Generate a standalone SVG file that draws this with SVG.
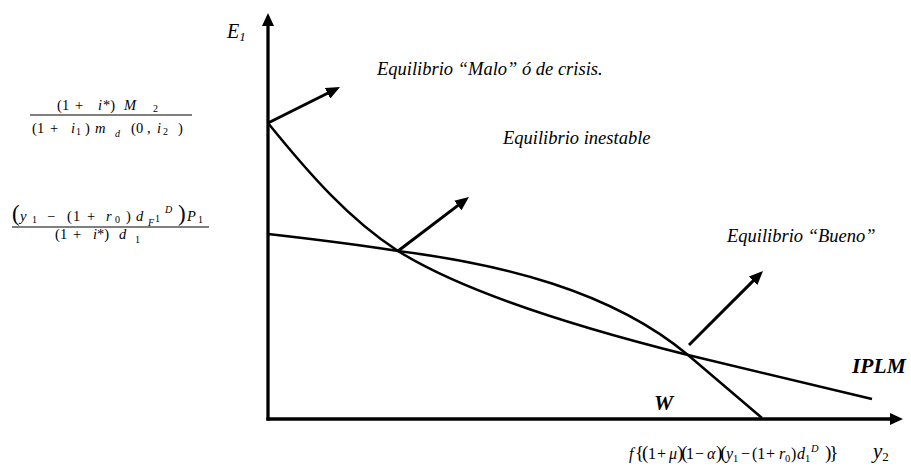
<svg xmlns="http://www.w3.org/2000/svg" width="911" height="471" viewBox="0 0 911 471" font-family="'Liberation Serif','Times New Roman',serif">
<defs>
<style>
.ax{stroke:#000;stroke-width:3.3;fill:none}
.arr{stroke:#000;stroke-width:3;fill:none}
.cv{stroke:#000;stroke-width:2.5;fill:none}
.bar{stroke:#000;stroke-width:1.2}
text{font-family:"Liberation Serif","Times New Roman",serif;fill:#000}
.lbl{font-size:18.5px;font-style:italic}
.bi{font-size:21.5px;font-style:italic;font-weight:bold}
.f{font-size:14.5px}
.it{font-style:italic}
.sm{font-size:10px}
.bf{font-size:16px}
.bp{font-size:19px;letter-spacing:-2px}
.bs{font-size:10.5px}
</style>
<marker id="ah" markerUnits="userSpaceOnUse" markerWidth="14" markerHeight="12" refX="4" refY="6" orient="auto">
<path d="M0,0 L14,6 L0,12 z" fill="#000"/>
</marker>
<marker id="axh" markerUnits="userSpaceOnUse" markerWidth="13" markerHeight="12" refX="3" refY="6" orient="auto">
<path d="M0,0 L13,6 L0,12 z" fill="#000"/>
</marker>
</defs>
<rect width="911" height="471" fill="#fff"/>

<g id="connectors">
<line id="axis-y" class="ax" x1="268" y1="420.6" x2="268" y2="23" marker-end="url(#axh)"/>
<line id="axis-x" class="ax" x1="266.4" y1="419" x2="893" y2="419" marker-end="url(#axh)"/>
<path id="iplm-curve" class="cv" d="M268,123 C310,175 350,220 398,251 C470,296 600,333 688,355 L872,399"/>
<path id="w-curve" class="cv" d="M268,234 C330,241 360,245 398,251 C500,264 610,290 688,355 L762,418"/>
<line id="arrow-malo" class="arr" x1="268" y1="123" x2="331.1" y2="91.5" marker-end="url(#ah)"/>
<line id="arrow-inestable" class="arr" x1="398" y1="251" x2="461" y2="203.1" marker-end="url(#ah)"/>
<line id="arrow-bueno" class="arr" x1="689" y1="345" x2="755.9" y2="278.1" marker-end="url(#ah)"/>
</g>

<g id="label-E1"><text x="227" y="38" font-size="20" class="it">E<tspan font-size="13" dy="3">1</tspan></text></g>
<g id="label-y2"><text x="873" y="458" font-size="21" class="it">y<tspan font-size="13" dy="3" font-style="normal">2</tspan></text></g>

<g id="label-malo"><text class="lbl" x="377" y="75">Equilibrio “Malo” ó de crisis.</text></g>
<g id="label-inestable"><text class="lbl" x="503" y="144">Equilibrio inestable</text></g>
<g id="label-bueno"><text class="lbl" x="727" y="242">Equilibrio “Bueno”</text></g>
<g id="label-IPLM"><text class="bi" x="852" y="373">IPLM</text></g>
<g id="label-W"><text class="bi" x="654" y="410">W</text></g>

<g id="formula-bottom">
<text class="bf" y="459"><tspan x="629" class="it">f</tspan><tspan x="635" class="bp">{(</tspan><tspan x="648">1</tspan><tspan x="657">+</tspan><tspan x="669" class="it">μ</tspan><tspan x="677" class="bp">)(</tspan><tspan x="686">1</tspan><tspan x="695">−</tspan><tspan x="707" class="it">α</tspan><tspan x="716" class="bp">)(</tspan><tspan x="726" class="it">y</tspan><tspan x="733" class="bs" dy="3">1</tspan><tspan x="741" dy="-3">−</tspan><tspan x="752">(1</tspan><tspan x="766">+</tspan><tspan x="779" class="it">r</tspan><tspan x="785" class="bs" dy="3">0</tspan><tspan x="791" dy="-3">)</tspan><tspan x="797" class="it">d</tspan><tspan x="805" class="bs" dy="3">1</tspan><tspan x="811" class="bs it" dy="-10">D</tspan><tspan x="825" class="bp" dy="7">)}</tspan></text>
</g>

<g id="formula-1">
<text class="f" y="110"><tspan x="57">(</tspan><tspan x="62">1</tspan><tspan x="75">+</tspan><tspan x="98" class="it">i</tspan><tspan x="103">*)</tspan><tspan x="124" class="it">M</tspan><tspan x="153" class="sm" dy="2">2</tspan></text>
<line class="bar" x1="30" y1="115" x2="192" y2="115"/>
<text class="f" y="133"><tspan x="32">(</tspan><tspan x="37">1</tspan><tspan x="50">+</tspan><tspan x="71" class="it">i</tspan><tspan x="76" class="sm" dy="2">1</tspan><tspan x="85" dy="-2">)</tspan><tspan x="95" class="it">m</tspan><tspan x="115" class="sm it" dy="4">d</tspan><tspan x="131" dy="-4">(</tspan><tspan x="136">0</tspan><tspan x="147">,</tspan><tspan x="157" class="it">i</tspan><tspan x="163" class="sm" dy="2">2</tspan><tspan x="178" dy="-2">)</tspan></text>
</g>

<g id="formula-2">
<text class="f" y="221"><tspan x="12" font-size="23">(</tspan><tspan x="20" class="it">y</tspan><tspan x="32" class="sm" dy="2">1</tspan><tspan x="47" dy="-2">−</tspan><tspan x="67">(</tspan><tspan x="73">1</tspan><tspan x="87">+</tspan><tspan x="106" class="it">r</tspan><tspan x="115" class="sm" dy="2">0</tspan><tspan x="126" dy="-2">)</tspan><tspan x="136" class="it">d</tspan><tspan x="155" class="sm" dy="1">1</tspan><tspan x="165" class="sm it" dy="-9">D</tspan><tspan x="178" font-size="23" dy="8">)</tspan><tspan x="187" class="it">P</tspan><tspan x="198" class="sm" dy="2">1</tspan></text>
<line class="bar" x1="12" y1="227" x2="209" y2="227"/>
<text class="f" y="239"><tspan x="55">(</tspan><tspan x="60">1</tspan><tspan x="73">+</tspan><tspan x="93" class="it">i</tspan><tspan x="97">*)</tspan><tspan x="119" class="it">d</tspan><tspan x="135" class="sm" dy="4">1</tspan><tspan x="148" class="sm it" dy="-17">F</tspan></text>
</g>
</svg>
